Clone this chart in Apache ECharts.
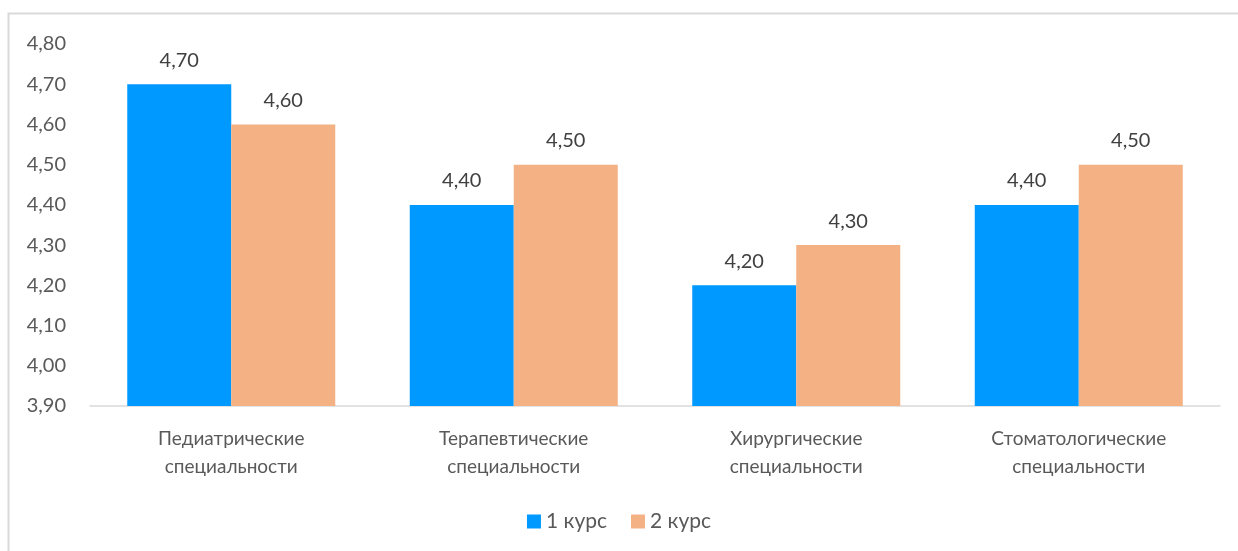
<!DOCTYPE html>
<html><head><meta charset="utf-8">
<script src="https://cdn.jsdelivr.net/npm/echarts@6/dist/echarts.min.js"></script>
<style>html,body{margin:0;padding:0;background:#fff}#c{width:1238px;height:551px}</style>
</head><body><div id="c"></div>
<script>
const categories = ['Педиатрические\nспециальности','Терапевтические\nспециальности','Хирургические\nспециальности','Стоматологические\nспециальности'];
const course1 = [4.70, 4.40, 4.20, 4.40];
const course2 = [4.60, 4.50, 4.30, 4.50];
const seriesNames = ['1 курс','2 курс'];
const fmt = v => (typeof v === 'number' ? v : v.value).toFixed(2).replace('.', ',');
const font = 'Lato, "Open Sans", sans-serif';
const chart = echarts.init(document.getElementById('c'));
chart.setOption({
  animation: false,
  textStyle: {fontFamily: font},
  graphic: [{type:'rect', shape:{x:8.5,y:13.5,width:1240,height:560}, style:{fill:'none', stroke:'#d9d9d9', lineWidth:2}, silent:true}],
  grid: {left: 90, right: 18, top: 44, bottom: 145},
  legend: {bottom: 14, left: 'center', itemWidth: 14, itemHeight: 14, itemGap: 24, itemTextGap: 6, icon: 'rect',
    textStyle: {color: '#595959', fontSize: 21, fontFamily: font}, data: seriesNames},
  xAxis: {type: 'category', data: categories,
    axisLine: {lineStyle: {color: '#d9d9d9', width: 1.5}}, axisTick: {show: false},
    axisLabel: {color: '#595959', fontSize: 19, lineHeight: 28, margin: 19, fontFamily: font}},
  yAxis: {type: 'value', min: 3.9, max: 4.8, interval: 0.1,
    splitLine: {show: false}, axisLine: {show: false}, axisTick: {show: false},
    axisLabel: {color: '#595959', fontSize: 20, margin: 24, formatter: v => v.toFixed(2).replace('.', ','), fontFamily: font}},
  series: [
    {name: seriesNames[0], type: 'bar', data: course1, barWidth: 104, barGap: '0%',
      itemStyle: {color: '#0099FF'},
      label: {show: true, position: 'top', distance: 14, color: '#404040', fontSize: 20, formatter: p => fmt(p.value), fontFamily: font}},
    {name: seriesNames[1], type: 'bar', data: course2, barWidth: 104, barGap: '0%',
      itemStyle: {color: '#F4B183'},
      label: {show: true, position: 'top', distance: 14, color: '#404040', fontSize: 20, formatter: p => fmt(p.value), fontFamily: font}}
  ]
});
</script></body></html>
